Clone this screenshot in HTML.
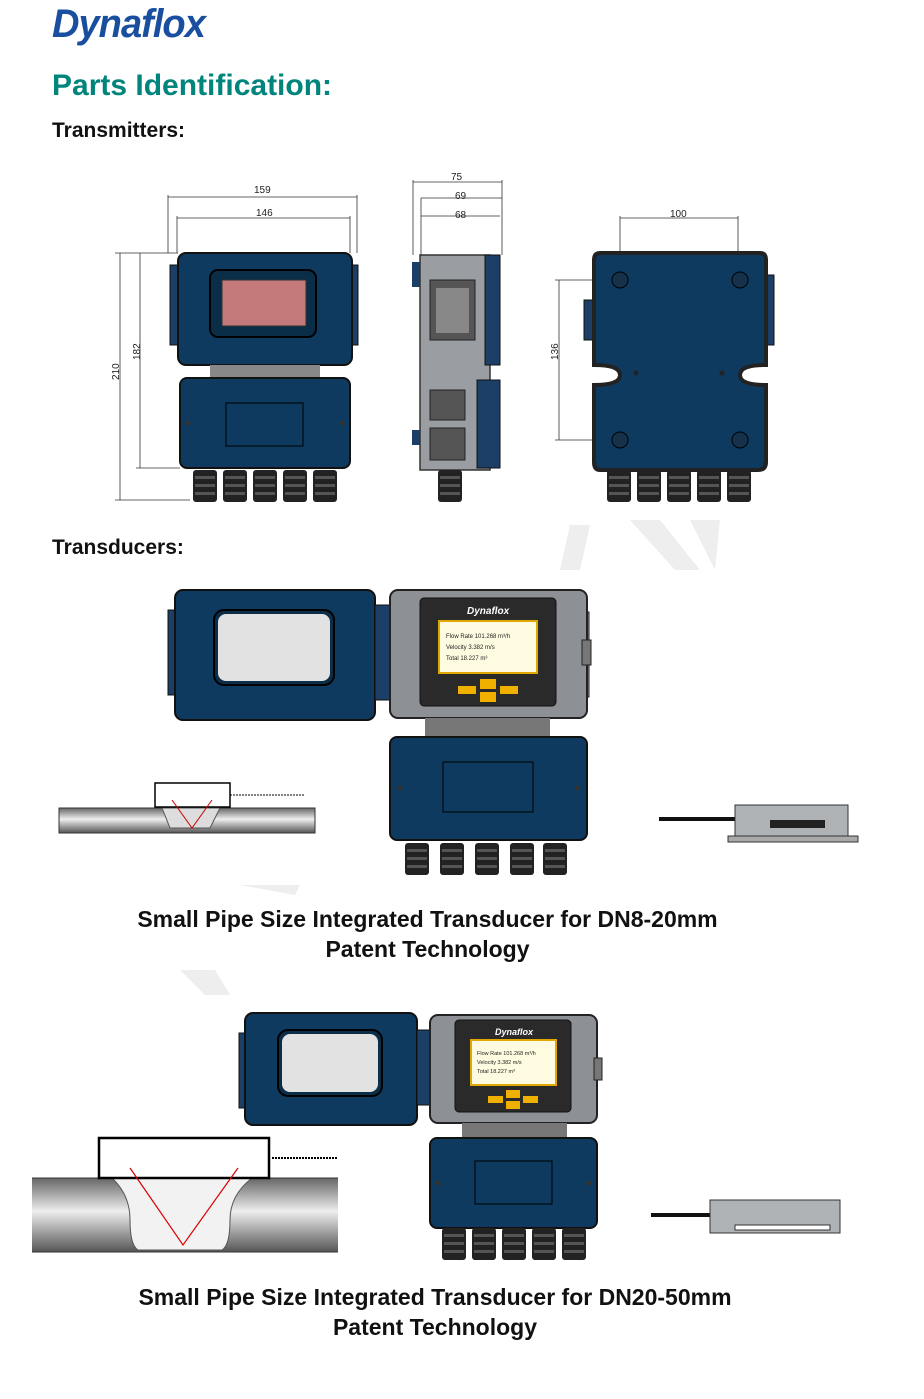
<!DOCTYPE html>
<html><head><meta charset="utf-8"><style>
body{margin:0;background:#fff;width:924px;height:1399px;overflow:hidden;position:relative;font-family:"Liberation Sans",sans-serif}
.t{position:absolute;font-weight:bold;white-space:nowrap}
svg{position:absolute;left:0;top:0}
</style></head><body>
<div class="t" style="left:52px;top:2px;font-size:40px;color:#1a4fa0;font-style:italic;letter-spacing:-1px;transform:scaleX(0.95);transform-origin:left">Dynaflox</div>
<div class="t" style="left:52px;top:69px;font-size:30px;color:#00857d">Parts Identification:</div>
<div class="t" style="left:52px;top:119px;font-size:21px;color:#111">Transmitters:</div>
<div class="t" style="left:52px;top:536px;font-size:21px;color:#111">Transducers:</div>
<div class="t" style="left:0;width:855px;text-align:center;top:906px;font-size:23px;color:#111">Small Pipe Size Integrated Transducer for DN8-20mm</div>
<div class="t" style="left:0;width:855px;text-align:center;top:936px;font-size:23px;color:#111">Patent Technology</div>
<div class="t" style="left:0;width:870px;text-align:center;top:1284px;font-size:23px;color:#111">Small Pipe Size Integrated Transducer for DN20-50mm</div>
<div class="t" style="left:0;width:870px;text-align:center;top:1314px;font-size:23px;color:#111">Patent Technology</div>
<svg width="924" height="1399" font-family="Liberation Sans" font-size="10">
<defs>
<linearGradient id="pipe" x1="0" y1="0" x2="0" y2="1"><stop offset="0" stop-color="#666"/><stop offset="0.45" stop-color="#eee"/><stop offset="1" stop-color="#555"/></linearGradient>
<g id="gl"><rect x="0" y="0" width="24" height="32" rx="3" fill="#222"/><rect x="2" y="6" width="20" height="3" fill="#555"/><rect x="2" y="14" width="20" height="3" fill="#555"/><rect x="2" y="22" width="20" height="3" fill="#555"/></g>
</defs>
<g stroke="#333" stroke-width="0.8" fill="none">
<path d="M168 195V253M357 195V253M168 197H357M177 216V253M350 216V253M177 218H350"/>
<path d="M115 253H178M115 500H190M120 253V500M136 468H180M140 253V468"/>
<path d="M413 180V255M502 180V255M413 182H502M421 198H502M421 216H500M421 198V255M421 216V255"/>
<path d="M620 216V270M738 216V270M620 218H738M555 280H600M555 440H600M559 280V440"/>
</g>
<g fill="#222" font-size="10">
<text x="254" y="193">159</text><text x="256" y="216">146</text>
<text x="114" y="385" transform="rotate(-90 114 380)">210</text><text x="135" y="365" transform="rotate(-90 135 360)">182</text>
<text x="451" y="180">75</text><text x="455" y="199">69</text><text x="455" y="218">68</text>
<text x="670" y="217">100</text><text x="553" y="365" transform="rotate(-90 553 360)">136</text>
</g>
<rect x="170" y="265" width="12" height="80" fill="#1b3f66" stroke="#111"/>
<rect x="348" y="265" width="10" height="80" fill="#1b3f66" stroke="#111"/>
<rect x="178" y="253" width="174" height="112" rx="8" fill="#0d3a5e" stroke="#111" stroke-width="2"/>
<rect x="210" y="270" width="106" height="67" rx="8" fill="#0a2d48" stroke="#000" stroke-width="2"/>
<rect x="222" y="280" width="84" height="46" fill="#c47a7a" stroke="#333"/>
<rect x="210" y="365" width="110" height="13" fill="#888"/>
<rect x="180" y="378" width="170" height="90" rx="7" fill="#0d3a5e" stroke="#111" stroke-width="2"/>
<rect x="226" y="403" width="77" height="43" fill="none" stroke="#000"/>
<circle cx="188" cy="423" r="2.5" fill="#333"/><circle cx="342" cy="423" r="2.5" fill="#333"/>
<use href="#gl" x="193" y="470"/><use href="#gl" x="223" y="470"/><use href="#gl" x="253" y="470"/><use href="#gl" x="283" y="470"/><use href="#gl" x="313" y="470"/>
<rect x="412" y="262" width="8" height="25" fill="#1b3f66"/><rect x="412" y="430" width="8" height="15" fill="#1b3f66"/>
<rect x="420" y="255" width="70" height="215" fill="#9a9ea3" stroke="#333" stroke-width="1.5"/>
<rect x="485" y="255" width="15" height="110" fill="#1b3f66" stroke="#111"/>
<rect x="477" y="380" width="23" height="88" fill="#1b3f66" stroke="#111"/>
<rect x="430" y="280" width="45" height="60" fill="#555" stroke="#222"/><rect x="436" y="288" width="33" height="45" fill="#888"/>
<rect x="430" y="390" width="35" height="30" fill="#555" stroke="#222"/><rect x="430" y="428" width="35" height="32" fill="#555" stroke="#222"/>
<use href="#gl" x="438" y="470"/>
<rect x="766" y="275" width="8" height="70" fill="#1b3f66" stroke="#111"/>
<rect x="584" y="300" width="10" height="40" fill="#1b3f66" stroke="#111"/>
<path d="M600 253H760Q766 253 766 260V365Q740 365 740 375Q740 385 766 385V462Q766 470 758 470H600Q594 470 594 462V385Q620 385 620 375Q620 365 594 365V260Q594 253 600 253Z" fill="#0d3a5e" stroke="#222" stroke-width="4"/>
<g fill="#16324a" stroke="#000"><circle cx="620" cy="280" r="8"/><circle cx="740" cy="280" r="8"/><circle cx="620" cy="440" r="8"/><circle cx="740" cy="440" r="8"/></g>
<circle cx="636" cy="373" r="2.5" fill="#222"/><circle cx="722" cy="373" r="2.5" fill="#222"/>
<use href="#gl" x="607" y="470"/><use href="#gl" x="637" y="470"/><use href="#gl" x="667" y="470"/><use href="#gl" x="697" y="470"/><use href="#gl" x="727" y="470"/>
<g fill="#eeeeee"><path d="M570 525L590 525L580 570L560 570Z"/><path d="M630 520L660 520L700 570L675 570Z"/><path d="M690 520L720 520L715 570Z"/><path d="M180 970L215 970L230 995L205 995Z"/><path d="M240 885L300 885L295 895Z"/></g>
<rect x="168" y="610" width="10" height="85" fill="#1b3f66" stroke="#111"/>
<rect x="175" y="590" width="200" height="130" rx="8" fill="#0d3a5e" stroke="#111" stroke-width="2"/>
<rect x="214" y="610" width="120" height="75" rx="10" fill="#0a2d48" stroke="#000" stroke-width="2"/>
<rect x="218" y="614" width="112" height="67" rx="8" fill="#e2e2e2"/>
<rect x="375" y="605" width="15" height="95" fill="#1b3f66" stroke="#111"/>
<rect x="575" y="612" width="14" height="85" fill="#8a8d91" stroke="#222"/>
<rect x="390" y="590" width="197" height="128" rx="8" fill="#8d9196" stroke="#222" stroke-width="2"/>
<rect x="582" y="640" width="9" height="25" fill="#777" stroke="#222"/>
<rect x="420" y="598" width="136" height="108" rx="4" fill="#2a2a2a" stroke="#111"/>
<text x="467" y="614" fill="#fff" font-weight="bold" font-style="italic" font-size="10">Dynaflox</text>
<rect x="439" y="621" width="98" height="52" fill="#fffbe0" stroke="#e0a800" stroke-width="2"/>
<g font-size="6" fill="#222"><text x="446" y="638">Flow Rate 101.268 m³/h</text><text x="446" y="649">Velocity   3.382   m/s</text><text x="446" y="660">Total      18.227  m³</text></g>
<g fill="#f0b000"><rect x="458" y="686" width="18" height="8"/><rect x="480" y="679" width="16" height="10"/><rect x="480" y="692" width="16" height="10"/><rect x="500" y="686" width="18" height="8"/></g>
<rect x="425" y="718" width="125" height="20" fill="#777"/>
<rect x="390" y="737" width="197" height="103" rx="7" fill="#0d3a5e" stroke="#111" stroke-width="2"/>
<rect x="443" y="762" width="90" height="50" fill="none" stroke="#000"/>
<circle cx="400" cy="788" r="2.5" fill="#333"/><circle cx="577" cy="788" r="2.5" fill="#333"/>
<use href="#gl" x="405" y="843"/><use href="#gl" x="440" y="843"/><use href="#gl" x="475" y="843"/><use href="#gl" x="510" y="843"/><use href="#gl" x="543" y="843"/>
<rect x="59" y="808" width="256" height="25" fill="url(#pipe)" stroke="#333"/>
<path d="M162 808L170 828L210 828L220 808Z" fill="#ddd" stroke="#555"/>
<rect x="155" y="783" width="75" height="24" fill="#fff" stroke="#000" stroke-width="1.5"/>
<path d="M172 800L192 828L212 800" stroke="#c00" fill="none"/>
<path d="M230 795H305" stroke="#000" stroke-dasharray="2 1"/>
<path d="M659 819H735" stroke="#111" stroke-width="4"/>
<rect x="735" y="805" width="113" height="32" fill="#b0b3b6" stroke="#333"/>
<rect x="728" y="836" width="130" height="6" fill="#aaa" stroke="#333"/>
<rect x="770" y="820" width="55" height="8" fill="#222"/>
<rect x="239" y="1033" width="10" height="75" fill="#1b3f66" stroke="#111"/>
<rect x="245" y="1013" width="172" height="112" rx="8" fill="#0d3a5e" stroke="#111" stroke-width="2"/>
<rect x="278" y="1030" width="104" height="66" rx="10" fill="#0a2d48" stroke="#000" stroke-width="2"/>
<rect x="282" y="1034" width="96" height="58" rx="8" fill="#e2e2e2"/>
<rect x="417" y="1030" width="13" height="75" fill="#1b3f66" stroke="#111"/>
<rect x="430" y="1015" width="167" height="108" rx="8" fill="#8d9196" stroke="#222" stroke-width="2"/>
<rect x="594" y="1058" width="8" height="22" fill="#777" stroke="#222"/>
<rect x="455" y="1020" width="116" height="92" rx="4" fill="#2a2a2a" stroke="#111"/>
<text x="495" y="1035" fill="#fff" font-weight="bold" font-style="italic" font-size="9">Dynaflox</text>
<rect x="471" y="1040" width="85" height="45" fill="#fffbe0" stroke="#e0a800" stroke-width="2"/>
<g font-size="5.5" fill="#222"><text x="477" y="1055">Flow Rate 101.268 m³/h</text><text x="477" y="1064">Velocity   3.382   m/s</text><text x="477" y="1073">Total      18.227  m³</text></g>
<g fill="#f0b000"><rect x="488" y="1096" width="15" height="7"/><rect x="506" y="1090" width="14" height="8"/><rect x="506" y="1101" width="14" height="8"/><rect x="523" y="1096" width="15" height="7"/></g>
<rect x="462" y="1123" width="105" height="15" fill="#777"/>
<rect x="430" y="1138" width="167" height="90" rx="7" fill="#0d3a5e" stroke="#111" stroke-width="2"/>
<rect x="475" y="1161" width="77" height="43" fill="none" stroke="#000"/>
<circle cx="438" cy="1183" r="2.5" fill="#333"/><circle cx="589" cy="1183" r="2.5" fill="#333"/>
<use href="#gl" x="442" y="1228"/><use href="#gl" x="472" y="1228"/><use href="#gl" x="502" y="1228"/><use href="#gl" x="532" y="1228"/><use href="#gl" x="562" y="1228"/>
<rect x="32" y="1178" width="306" height="74" fill="url(#pipe)"/>
<path d="M32 1178H338M32 1252H338" stroke="#333"/>
<path d="M112 1178Q130 1195 130 1220Q130 1245 138 1250H222Q230 1245 230 1220Q230 1195 252 1178Z" fill="#f2f2f2" stroke="#555"/>
<rect x="99" y="1138" width="170" height="40" fill="#fff" stroke="#000" stroke-width="2.5"/>
<path d="M130 1168L183 1245L238 1168" stroke="#d00" fill="none" stroke-width="1.2"/>
<path d="M272 1158H338" stroke="#000" stroke-width="2" stroke-dasharray="2 1"/>
<path d="M651 1215H710" stroke="#111" stroke-width="4"/>
<rect x="710" y="1200" width="130" height="33" fill="#b0b3b6" stroke="#333"/>
<rect x="735" y="1225" width="95" height="5" fill="#fff" stroke="#333"/>
</svg>
</body></html>
